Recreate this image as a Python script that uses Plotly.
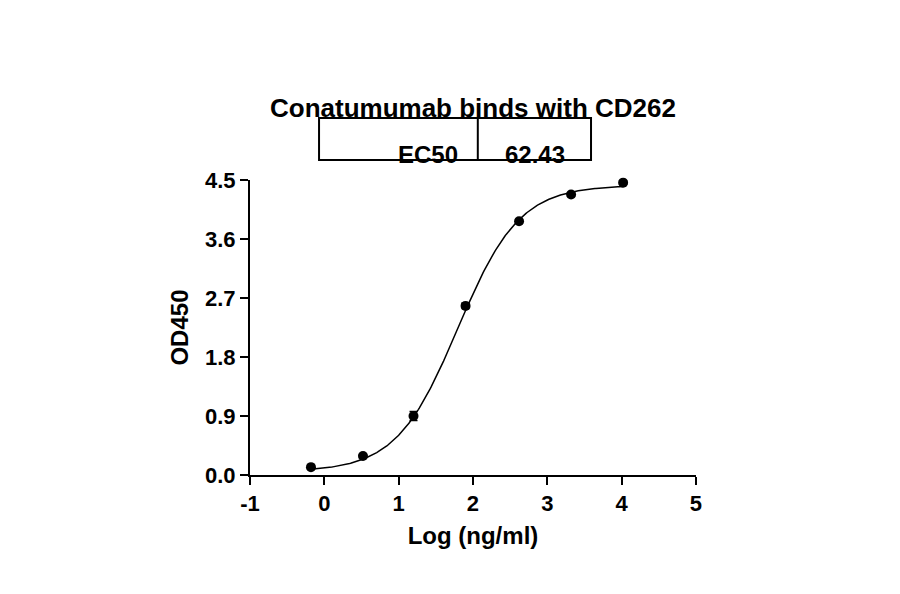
import numpy as np
import plotly.graph_objects as go

log_conc = [-0.18, 0.52, 1.2, 1.9, 2.62, 3.32, 4.02]
od450 = [0.12, 0.29, 0.9, 2.58, 3.87, 4.28, 4.46]
od_err = [0.02, 0.03, 0.07, 0.04, 0.03, 0.03, 0.02]
x_ticks = [-1, 0, 1, 2, 3, 4, 5]
x_tick_labels = ["-1", "0", "1", "2", "3", "4", "5"]
y_ticks = [0, 0.9, 1.8, 2.7, 3.6, 4.5]
fit_bottom, fit_top, ec50, hill = 0.05, 4.42, 62.43, 1.05

logec = np.log10(ec50)
xc = np.linspace(min(log_conc), max(log_conc), 300)
yc = fit_bottom + (fit_top - fit_bottom) / (1 + 10 ** ((logec - xc) * hill))

F = "Liberation Sans"
fig = go.Figure()
fig.add_trace(go.Scatter(x=xc, y=yc, mode="lines", line=dict(color="black", width=1.5),
                         hoverinfo="skip", cliponaxis=False))
fig.add_trace(go.Scatter(x=log_conc, y=od450, mode="markers", cliponaxis=False,
                         marker=dict(color="black", size=10),
                         error_y=dict(type="data", array=od_err, color="black", thickness=1.5, width=4)))
ax = dict(showline=True, linecolor="black", linewidth=2, ticks="outside", tickwidth=2, ticklen=8,
          tickcolor="black", showgrid=False, zeroline=False, automargin=False,
          tickfont=dict(family=F, size=22, color="black", weight="bold"))
fig.update_layout(
    width=900, height=594, margin=dict(l=0, r=0, t=0, b=0), showlegend=False,
    plot_bgcolor="white", paper_bgcolor="white",
    xaxis=dict(ax, domain=[0.2689, 0.7644], range=[-1, 5], tickvals=x_ticks, ticktext=x_tick_labels,
               title=dict(text="Log (ng/ml)", font=dict(family=F, size=24, color="black", weight="bold"),
                          standoff=12)),
    yaxis=dict(ax, domain=[0.2138, 0.7104], range=[0, 4.5], tickvals=y_ticks, tickformat=".1f",
               title=dict(text="OD450", font=dict(family=F, size=24, color="black", weight="bold"),
                          standoff=10)),
)
fig.add_annotation(text="<b>Conatumumab binds with CD262</b>", x=0.517, y=0.86, xref="paper", yref="paper",
                   showarrow=False, font=dict(family=F, size=26, color="black"))
fig.add_shape(type="rect", x0=0.3456, x1=0.6478, y0=0.744, y1=0.815, xref="paper", yref="paper",
              line=dict(color="black", width=2))
fig.add_shape(type="line", x0=0.522, x1=0.522, y0=0.744, y1=0.815, xref="paper", yref="paper",
              line=dict(color="black", width=2))
fig.add_annotation(text="<b>EC50</b>", x=0.467, y=0.78, xref="paper", yref="paper", showarrow=False,
                   font=dict(family=F, size=24, color="black"))
fig.add_annotation(text="<b>62.43</b>", x=0.585, y=0.78, xref="paper", yref="paper", showarrow=False,
                   font=dict(family=F, size=24, color="black"))
fig.write_html("out.html")
